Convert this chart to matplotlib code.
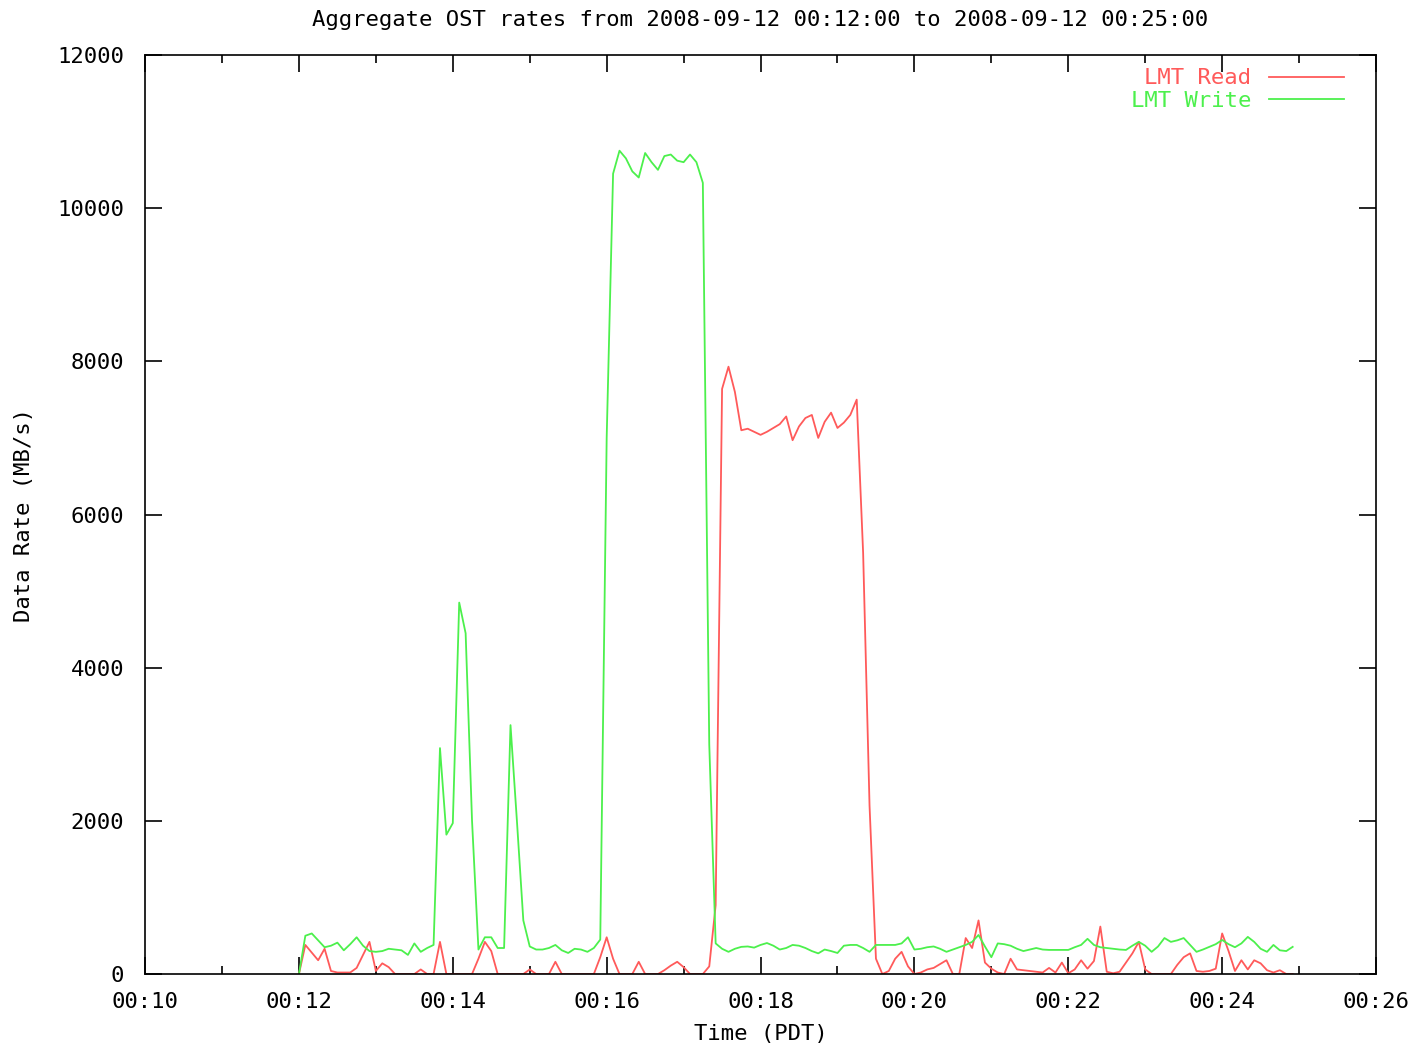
import numpy as np
import matplotlib
matplotlib.use("Agg")
import matplotlib.pyplot as plt
from matplotlib.ticker import MultipleLocator, FuncFormatter

# aggregate OST rates, one sample every 5 s starting 00:12:00
start_min = 12
step_s = 5

read_mbs = [
    0, 380, 280, 180, 330, 40, 20, 20, 20, 80,
    250, 420, 40, 140, 90, 0, 0, 0, 0, 60,
    0, 0, 420, 0, 0, 0, 0, 0, 200, 420,
    300, 0, 0, 0, 0, 0, 60, 0, 0, 0,
    160, 0, 0, 0, 0, 0, 0, 220, 480, 200,
    0, 0, 0, 160, 0, 0, 0, 50, 110, 160,
    90, 0, 0, 0, 100, 900, 7640, 7930, 7600, 7100,
    7120, 7080, 7040, 7080, 7130, 7180, 7280, 6970, 7150, 7260,
    7300, 7000, 7210, 7330, 7130, 7200, 7300, 7500, 5500, 2200,
    200, 0, 40, 200, 290, 100, 0, 20, 60, 80,
    130, 180, 0, 0, 470, 340, 700, 150, 70, 20,
    0, 200, 60, 50, 40, 30, 20, 80, 20, 150,
    10, 60, 180, 70, 170, 620, 30, 10, 30, 150,
    270, 420, 60, 0, 0, 0, 0, 120, 220, 270,
    40, 30, 40, 70, 530, 300, 40, 180, 60, 180,
    140, 50, 20, 50, 0, 0,
]

write_mbs = [
    0, 500, 530, 440, 350, 370, 410, 310, 390, 480,
    370, 300, 290, 300, 330, 320, 310, 250, 400, 290,
    340, 380, 2950, 1820, 1970, 4850, 4450, 2000, 320, 480,
    480, 340, 340, 3250, 2000, 700, 360, 320, 320, 340,
    380, 310, 275, 330, 320, 290, 340, 450, 7000, 10450,
    10750, 10650, 10480, 10400, 10720, 10600, 10500, 10680, 10700, 10620,
    10600, 10700, 10600, 10330, 3000, 400, 330, 290, 330, 355,
    360, 345, 380, 405, 370, 320, 340, 380, 370, 340,
    300, 270, 320, 300, 275, 370, 380, 380, 340, 290,
    380, 380, 380, 380, 400, 480, 320, 330, 350, 360,
    330, 290, 320, 350, 380, 420, 510, 360, 220, 400,
    390, 370, 330, 300, 320, 340, 320, 315, 315, 315,
    315, 350, 380, 460, 380, 350, 340, 330, 320, 315,
    370, 420, 370, 290, 360, 470, 420, 440, 470, 380,
    290, 320, 355, 390, 445, 390, 350, 400, 485, 420,
    330, 290, 380, 310, 300, 355,
]

t = start_min + np.arange(len(read_mbs)) * step_s / 60.0

plt.rcParams['font.family'] = ['DejaVu Sans Mono']
fs = 16

fig = plt.figure(figsize=(14.18, 10.45), dpi=100)
ax = fig.add_axes([0.1023, 0.0679, 0.8681, 0.8795])

ax.plot(t, read_mbs, color='#ff5a5a', lw=1.3, label='LMT Read')
ax.plot(t, write_mbs, color='#4cf04c', lw=1.3, label='LMT Write')

ax.set_xlim(10, 26)
ax.set_ylim(0, 12000)
ax.xaxis.set_major_locator(MultipleLocator(2))
ax.xaxis.set_minor_locator(MultipleLocator(1))
ax.yaxis.set_major_locator(MultipleLocator(2000))
ax.xaxis.set_major_formatter(FuncFormatter(lambda v, p: "00:%02d" % int(round(v))))

ax.tick_params(which='both', direction='in', top=True, right=True, width=1.2, colors='black')
ax.tick_params(which='major', length=12, labelsize=fs)
ax.tick_params(which='minor', length=6)
ax.tick_params(axis='x', pad=13)
ax.tick_params(axis='y', pad=15)
for s in ax.spines.values():
    s.set_linewidth(1.2)

ax.set_title("Aggregate OST rates from 2008-09-12 00:12:00 to 2008-09-12 00:25:00",
             fontsize=fs, pad=21)
ax.set_xlabel("Time (PDT)", fontsize=fs)
ax.set_ylabel("Data Rate (MB/s)", fontsize=fs)
ax.xaxis.set_label_coords(0.5, -0.054)
ax.yaxis.set_label_coords(-0.09, 0.5)

ax.legend(loc='upper right', bbox_to_anchor=(0.985, 1.0), frameon=False,
          markerfirst=False, labelcolor='linecolor',
          fontsize=fs, handlelength=3.4, handletextpad=0.8, labelspacing=0.1,
          borderaxespad=0.2)

fig.savefig("out.png", dpi=100)
